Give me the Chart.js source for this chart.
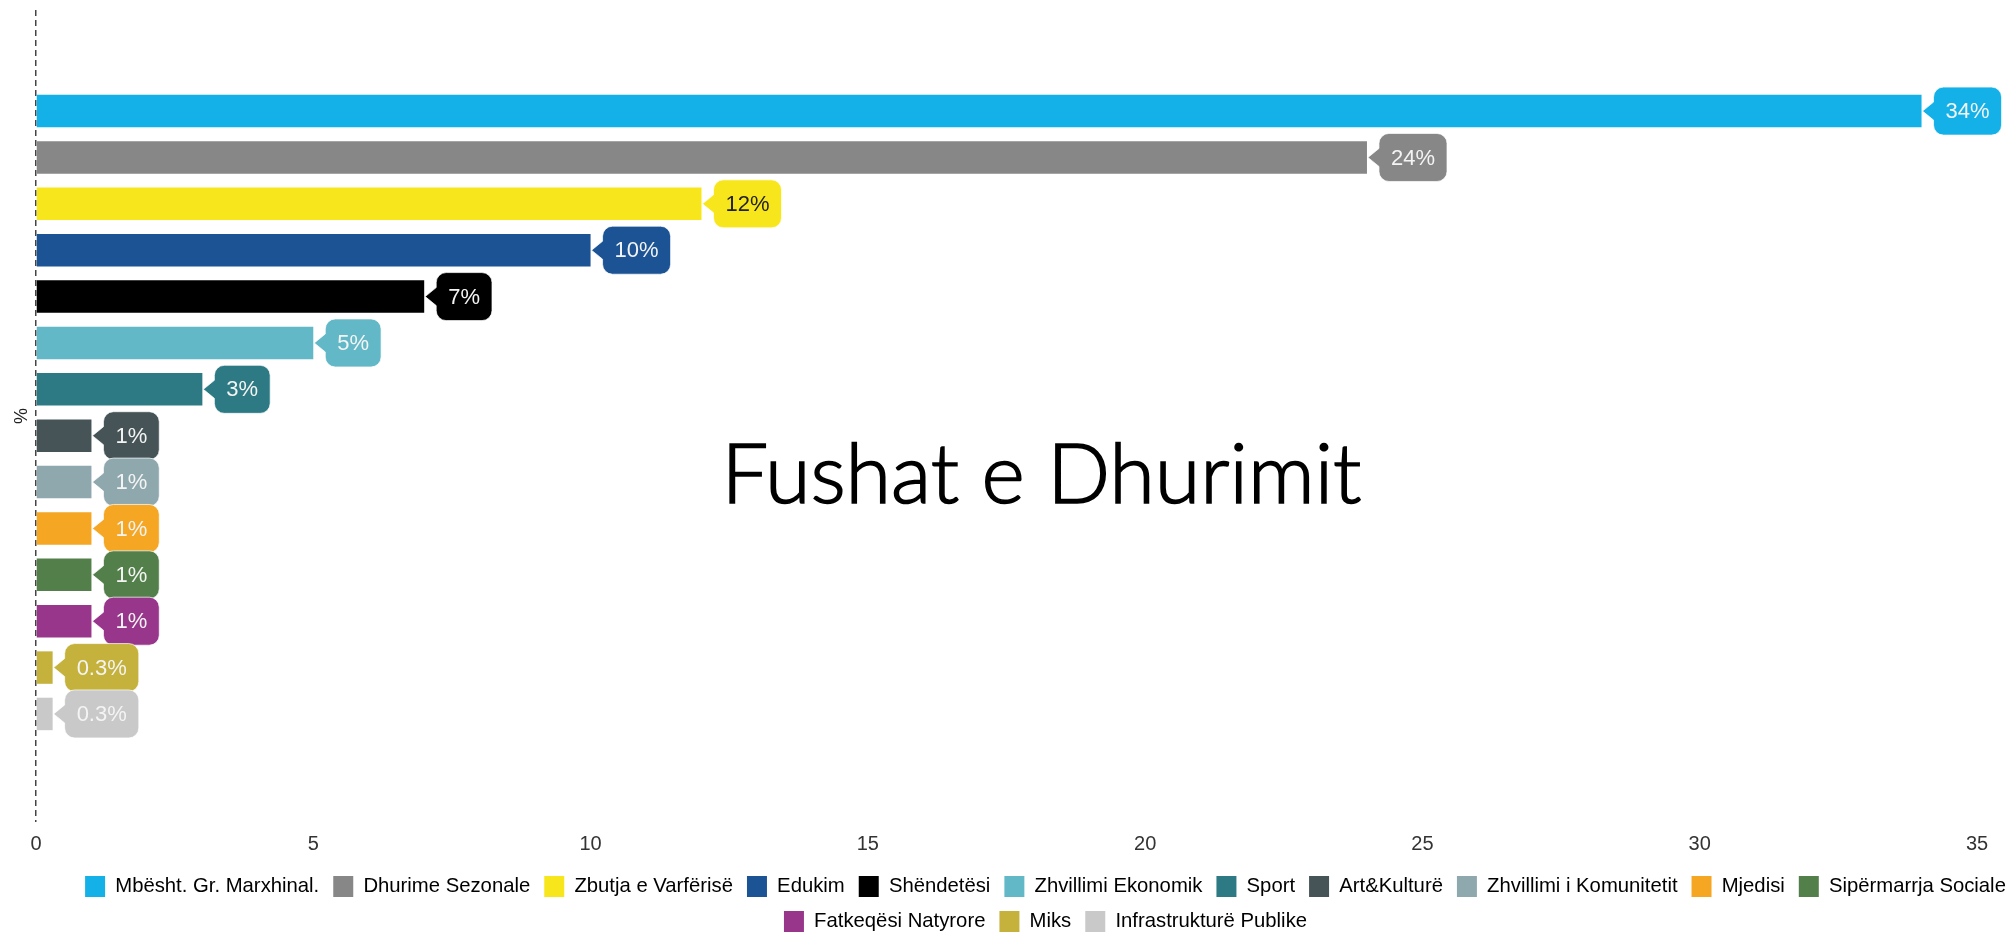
<!DOCTYPE html>
<html>
<head>
<meta charset="utf-8">
<script src="https://cdn.jsdelivr.net/npm/chart.js@4.4.1/dist/chart.umd.min.js"></script>
<style>
  html, body { margin: 0; padding: 0; background: #fff; }
  #wrap { width: 2010px; height: 932px; position: relative; }
</style>
</head>
<body>
<div id="wrap"><canvas id="graph_canvas"></canvas></div>
<script>
// data
const categories = [
  'Mbësht. Gr. Marxhinal.', 'Dhurime Sezonale', 'Zbutja e Varfërisë', 'Edukim',
  'Shëndetësi', 'Zhvillimi Ekonomik', 'Sport', 'Art&Kulturë',
  'Zhvillimi i Komunitetit', 'Mjedisi', 'Sipërmarrja Sociale',
  'Fatkeqësi Natyrore', 'Miks', 'Infrastrukturë Publike'
];
const shares = [34, 24, 12, 10, 7, 5, 3, 1, 1, 1, 1, 1, 0.3, 0.3];
const xTickValues = [0, 5, 10, 15, 20, 25, 30, 35];
const chartTitle = 'Fushat e Dhurimit';
const axisTitle = '%';

// styles
const barColors = [
  '#14b1e8', '#878787', '#f8e61c', '#1b5394', '#000000', '#62b8c7', '#2d7a84',
  '#465457', '#8fa8ae', '#f5a623', '#53804a', '#98368b', '#c4b23c', '#c9c9c9'
];
const darkText = ['#f8e61c'];
const baseFont = "'Liberation Sans', Arial, sans-serif";

const ctx = document.getElementById('graph_canvas');

// speech-bubble value labels at the end of each bar
const bubbleLabels = {
  id: 'bubbleLabels',
  afterDatasetsDraw(chart) {
    const c = chart.ctx;
    const meta = chart.getDatasetMeta(0);
    c.save();
    c.font = '22px ' + baseFont;
    c.textAlign = 'center';
    c.textBaseline = 'middle';
    meta.data.forEach((bar, i) => {
      const text = shares[i] + '%';
      const w = c.measureText(text).width + 24;
      const h = 48;
      const tip = bar.x + 1;
      const left = tip + 11;
      const top = bar.y - h / 2;
      const r = 10;
      c.beginPath();
      c.moveTo(tip, bar.y);
      c.lineTo(left, bar.y - 9);
      c.lineTo(left, top + r);
      c.arcTo(left, top, left + r, top, r);
      c.lineTo(left + w - r, top);
      c.arcTo(left + w, top, left + w, top + r, r);
      c.lineTo(left + w, top + h - r);
      c.arcTo(left + w, top + h, left + w - r, top + h, r);
      c.lineTo(left + r, top + h);
      c.arcTo(left, top + h, left, top + h - r, r);
      c.lineTo(left, bar.y + 9);
      c.closePath();
      c.fillStyle = barColors[i];
      c.fill();
      c.lineWidth = 1;
      c.strokeStyle = 'rgba(255,255,255,0.7)';
      c.stroke();
      c.fillStyle = darkText.includes(barColors[i]) ? '#222' : '#f4f4f4';
      c.fillText(text, left + w / 2, bar.y + 1);
    });
    c.restore();
  }
};

// big title drawn over the plot
const centerTitle = {
  id: 'centerTitle',
  afterDraw(chart) {
    const c = chart.ctx;
    const a = chart.chartArea;
    c.save();
    c.font = '300 84px Lato, sans-serif';
    const tw = c.measureText(chartTitle).width;
    const size = 84 * 640 / tw;
    c.font = '300 ' + size + 'px Lato, sans-serif';
    c.fillStyle = '#000';
    c.strokeStyle = '#000';
    c.lineWidth = 1.6;
    c.textAlign = 'center';
    c.textBaseline = 'alphabetic';
    const x = a.left + a.width * 0.518;
    const y = a.top + a.height * 0.607;
    c.fillText(chartTitle, x, y);
    c.strokeText(chartTitle, x, y);
    c.restore();
  }
};

// nudge the legend to where it sits in the picture
const legendNudge = {
  id: 'legendNudge',
  afterLayout(chart) {
    const lg = chart.legend;
    lg.left += 57; lg.right += 57;
    lg.top += 10; lg.bottom += 10;
  }
};

const config = {
  type: 'bar',
  data: {
    labels: categories,
    datasets: [{
      label: '%',
      data: shares.map((v, i) => ({ x: v, y: i })),
      backgroundColor: barColors,
      borderWidth: 0,
      categoryPercentage: 1,
      barPercentage: 0.7
    }]
  },
  options: {
    indexAxis: 'y',
    responsive: true,
    maintainAspectRatio: false,
    animation: false,
    layout: { padding: { top: 10, right: 33, left: 0, bottom: 0 } },
    scales: {
      x: {
        type: 'linear',
        min: 0,
        max: 35,
        grid: {
          display: true,
          drawTicks: false,
          lineWidth: 1.5,
          color: (c) => (c.tick && c.tick.value === 0 ? '#444' : 'rgba(0,0,0,0)')
        },
        border: { display: false, dash: [6, 4] },
        afterBuildTicks: (s) => { s.ticks = xTickValues.map(v => ({ value: v })); },
        afterFit: (s) => { s.height = 30; },
        ticks: {
          padding: 10,
          color: '#333',
          font: { family: baseFont, size: 20 }
        }
      },
      y: {
        type: 'linear',
        reverse: true,
        offset: false,
        min: -2.18,
        max: 15.33,
        grid: { display: false, drawTicks: false },
        border: { display: false },
        ticks: { display: false },
        afterFit: (s) => { s.width = 36; },
        title: {
          display: true,
          text: axisTitle,
          color: '#222',
          padding: { top: 11, bottom: 0 },
          font: { family: baseFont, size: 18 }
        }
      }
    },
    plugins: {
      legend: {
        position: 'bottom',
        labels: {
          boxWidth: 20,
          boxHeight: 21,
          padding: 14,
          color: '#333',
          useBorderRadius: true,
          borderRadius: 2,
          font: { family: baseFont, size: 20.3 },
          generateLabels: () => categories.map((name, i) => ({
            text: name,
            fillStyle: barColors[i],
            strokeStyle: barColors[i],
            lineWidth: 0,
            hidden: false,
            index: i
          }))
        },
        onClick: () => {}
      },
      tooltip: {
        callbacks: {
          title: (items) => categories[items[0].dataIndex],
          label: (item) => shares[item.dataIndex] + '%'
        }
      }
    }
  },
  plugins: [bubbleLabels, centerTitle, legendNudge]
};

var myChart = new Chart(ctx, config);
</script>
</body>
</html>
